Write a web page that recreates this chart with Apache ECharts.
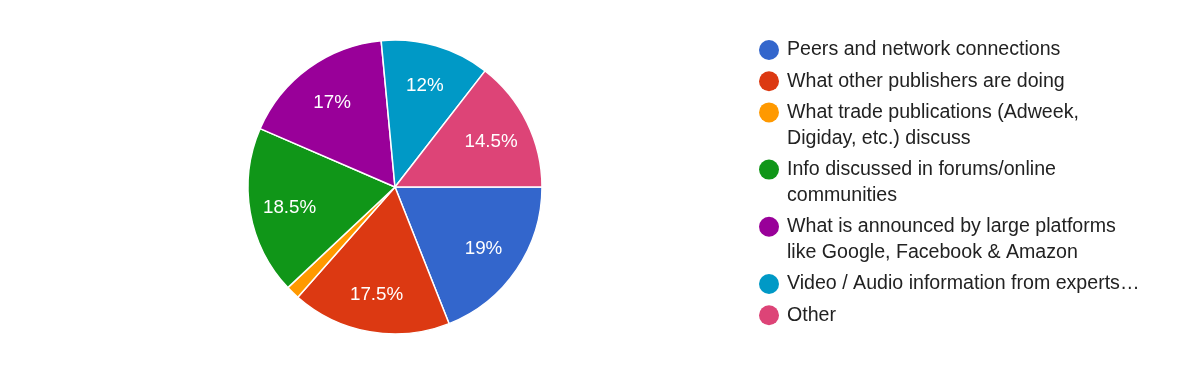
<!DOCTYPE html>
<html>
<head>
<meta charset="utf-8">
<script src="https://cdn.jsdelivr.net/npm/echarts@6/dist/echarts.min.js"></script>
<style>
html,body{margin:0;padding:0;background:#fff;}
#chart{width:1200px;height:391px;}
</style>
</head>
<body>
<div id="chart"></div>
<script>
// ---- data ----
const categories = [
  'Peers and network connections',
  'What other publishers are doing',
  'What trade publications (Adweek, Digiday, etc.) discuss',
  'Info discussed in forums/online communities',
  'What is announced by large platforms like Google, Facebook & Amazon',
  'Video / Audio information from experts…',
  'Other'
];
const legendLabels = [
  'Peers and network connections',
  'What other publishers are doing',
  'What trade publications (Adweek,\nDigiday, etc.) discuss',
  'Info discussed in forums/online\ncommunities',
  'What is announced by large platforms\nlike Google, Facebook & Amazon',
  'Video / Audio information from experts…',
  'Other'
];
const values = [19, 17.5, 1.5, 18.5, 17, 12, 14.5];
const colors = ['#3366cc', '#dc3912', '#ff9900', '#109618', '#990099', '#0099c6', '#dd4477'];

// ---- layout ----
const FONT = '"Liberation Sans", Arial, sans-serif';
const center = [395, 187];
const R = 147;
const lineH = 26;
const step = 31.2;

const legends = [];
let c = 50;
categories.forEach((name, i) => {
  const lines = legendLabels[i].split('\n').length;
  const multi = lines > 1;
  legends.push({
    orient: 'vertical',
    left: 759,
    top: multi ? c - 13 - lineH * (lines - 1) : c - 13,
    padding: 0,
    itemWidth: 26,
    itemHeight: 20,
    icon: 'circle',
    selectedMode: false,
    itemStyle: { borderWidth: 0 },
    data: [name],
    // a leading empty line keeps the icon aligned with the first text line
    formatter: n => {
      const t = legendLabels[categories.indexOf(n)];
      const k = t.split('\n').length - 1;
      return '\n'.repeat(k) + t;
    },
    textStyle: {
      fontFamily: FONT,
      fontSize: 19.6,
      color: '#222222',
      lineHeight: lineH
    }
  });
  c += lineH * (lines - 1) + step;
});

const pieData = categories.map((name, i) => ({ name, value: values[i], itemStyle: { color: colors[i] } }));

const chart = echarts.init(document.getElementById('chart'), null, { renderer: 'canvas' });
chart.setOption({
  backgroundColor: '#ffffff',
  animation: false,
  legend: legends,
  series: [
    {
      type: 'pie',
      center: center,
      radius: [0, R],
      startAngle: 0,
      clockwise: true,
      avoidLabelOverlap: false,
      label: { show: false },
      labelLine: { show: false },
      itemStyle: { borderColor: '#ffffff', borderWidth: 1.5 },
      emphasis: { disabled: true },
      data: pieData
    },
    {
      type: 'pie',
      center: center,
      radius: [61, R],
      startAngle: 0,
      clockwise: true,
      silent: true,
      legendHoverLink: false,
      avoidLabelOverlap: false,
      itemStyle: { color: 'rgba(0,0,0,0)', borderWidth: 0 },
      label: {
        show: true,
        position: 'inside',
        offset: [0, 2],
        fontFamily: FONT,
        fontSize: 18.8,
        color: '#ffffff',
        formatter: p => (p.value < 5 ? '' : p.value + '%')
      },
      labelLine: { show: false },
      emphasis: { disabled: true },
      data: categories.map((name, i) => ({ name, value: values[i] }))
    }
  ]
});
</script>
</body>
</html>
